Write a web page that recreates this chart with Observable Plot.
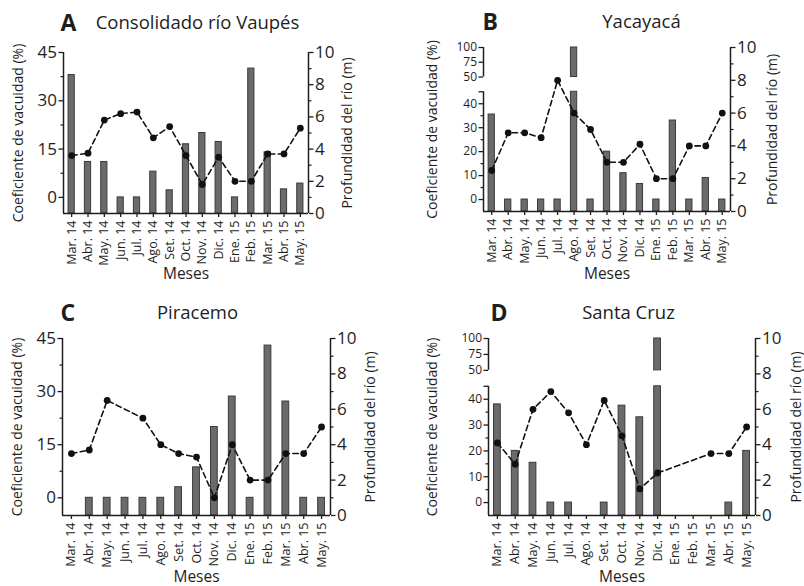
<!DOCTYPE html>
<html>
<head>
<meta charset="utf-8">
<script src="https://cdn.jsdelivr.net/npm/d3@7"></script>
<script src="https://cdn.jsdelivr.net/npm/@observablehq/plot@0.6"></script>
<style>
  body { margin: 0; background: #fff; }
  #wrap { position: relative; width: 804px; height: 586px; overflow: hidden; }
  .panel { position: absolute; }
</style>
</head>
<body>
<div id="wrap"></div>
<script>
// ---------- data ----------
const months = ["Mar. 14","Abr. 14","May. 14","Jun. 14","Jul. 14","Ago. 14","Set. 14","Oct. 14","Nov. 14","Dic. 14","Ene. 15","Feb. 15","Mar. 15","Abr. 15","May. 15"];

const letters = ["A", "B", "C", "D"];
const sites = ["Consolidado río Vaupés", "Yacayacá", "Piracemo", "Santa Cruz"];

// Coeficiente de vacuidad (%)
const vacA = [38, 11, 11, 0, 0, 8, 2.2, 16.5, 20, 17.2, 0, 40, 14, 2.5, 4.3];
const vacB = [35.5, 0, 0, 0, 0, 100, 0, 20, 11, 6.5, 0, 33, 0, 9, 0];
const vacC = [null, 0, 0, 0, 0, 0, 3, 8.6, 20, 28.6, 0, 43, 27.2, 0, 0];
const vacD = [38, 20, 15.4, 0, 0, null, 0, 37.5, 33, 100, null, null, null, 0, 20];

// Profundidad del río (m)
const depA = [3.6, 3.75, 5.8, 6.2, 6.3, 4.7, 5.4, 3.6, 1.8, 3.5, 2.0, 2.0, 3.7, 3.7, 5.3];
const depB = [2.5, 4.8, 4.8, 4.5, 8.0, 6.0, 5.0, 3.0, 3.0, 4.1, 2.0, 2.0, 4.0, 4.0, 6.0];
const depC = [3.5, 3.7, 6.5, null, 5.5, 4.0, 3.5, 3.3, 1.0, 4.0, 2.0, 2.0, 3.5, 3.5, 5.0];
const depD = [4.1, 2.9, 6.0, 7.0, 5.8, 4.0, 6.5, 4.5, 1.5, 2.4, null, null, 3.5, 3.5, 5.0];

const yLabelLeft = "Coeficiente de vacuidad (%)";
const yLabelRight = "Profundidad del río (m)";
const xLabel = "Meses";

const leftTicksSimple = [0, 15, 30, 45];
const leftMinorSimple = [7.5, 22.5, 37.5];
const leftTicksBroken = [0, 10, 20, 30, 40, 50, 75, 100];
const leftMinorBroken = [5, 15, 25, 35];
const rightTicks = [0, 2, 4, 6, 8, 10];
const rightMinor = [1, 3, 5, 7, 9];

// ---------- layout ----------
const FONT = "'Open Sans', 'Noto Sans', sans-serif";
const layout = [
  {ox: 0,   oy: 0,   w: 400, h: 290, mt: 52, mb: 77, ml: 63, mr: 92, broken: false, leftFont: 17, llx: -45, rlx: 39, mx: 61, lx: -3, sx: 11.5, ty: -29},
  {ox: 400, oy: 0,   w: 404, h: 290, mt: 47, mb: 79, ml: 83, mr: 74, broken: true,  leftFont: 12, llx: -51, rlx: 42, mx: 63, lx: -1, sx: 34.5, ty: -25},
  {ox: 0,   oy: 290, w: 400, h: 296, mt: 48, mb: 71, ml: 62, mr: 70, broken: false, leftFont: 17, llx: -45, rlx: 40, mx: 62, lx: -2, sx: 1,    ty: -25},
  {ox: 400, oy: 290, w: 404, h: 296, mt: 48, mb: 71, ml: 88, mr: 49, broken: true,  leftFont: 12, llx: -56, rlx: 41, mx: 62, lx: 2,  sx: 6.5,  ty: -25}
];

function makePanel(p, vac, dep, letter, site) {
  const v2d = p.broken
    ? d3.scaleLinear().domain([-5, 45, 50, 100]).range([0, 7.3, 8.2, 10])
    : d3.scaleLinear().domain([-5, 45]).range([0, 10]);
  const base = v2d.domain()[0];
  const rows = months.map((m, i) => ({i, v: vac[i], d: dep[i]}));
  const bars = [];
  for (const r of rows) {
    if (r.v == null) continue;
    if (p.broken && r.v > 45) {
      bars.push({i: r.i, a: base, b: 45});
      bars.push({i: r.i, a: 50, b: r.v});
    } else {
      bars.push({i: r.i, a: base, b: r.v});
    }
  }
  const pts = rows.filter(r => r.d != null);
  const leftMajor = p.broken ? leftTicksBroken : leftTicksSimple;
  const leftMinor = p.broken ? leftMinorBroken : leftMinorSimple;
  const caps = p.broken ? [45] : [];
  const segs = p.broken ? [[base, 45], [50, 100]] : [[base, 45]];
  const X0 = -0.5, X1 = months.length - 0.5;
  const fmtLeft = d => {
    const v = Math.round(v2d.invert(d) * 10) / 10;
    return caps.includes(v) ? "" : String(v);
  };
  const ink = "#1e1e1e";
  return Plot.plot({
    width: p.w, height: p.h,
    marginTop: p.mt, marginBottom: p.mb, marginLeft: p.ml, marginRight: p.mr,
    style: {fontFamily: FONT, color: ink, background: "white", overflow: "visible"},
    x: {domain: [X0, X1], label: null},
    y: {domain: [0, 10], label: null},
    marks: [
      Plot.rect(bars, {x1: d => d.i - 0.19, x2: d => d.i + 0.19, y1: d => v2d(d.a), y2: d => v2d(d.b), fill: "#6b6b6b", stroke: "#3a3a3a", strokeWidth: 1}),
      Plot.line(pts, {x: "i", y: "d", stroke: "#111", strokeWidth: 1.6, strokeDasharray: "5.5,3.5"}),
      Plot.dot(pts, {x: "i", y: "d", r: 3.4, fill: "#111", stroke: "none"}),
      Plot.ruleX(segs, {x: () => X0, y1: s => v2d(s[0]), y2: s => v2d(s[1]), stroke: ink, strokeWidth: 1.5}),
      Plot.ruleX([X1], {y1: 0, y2: 10, stroke: ink, strokeWidth: 1.5}),
      Plot.ruleY([0], {x1: X0, x2: X1, stroke: ink, strokeWidth: 1.5}),
      Plot.axisY(leftMajor.concat(caps).map(v2d), {anchor: "left", label: null, tickSize: 4.5, tickPadding: 2, tickFormat: fmtLeft, fontSize: p.leftFont, strokeWidth: 1.3}),
      Plot.axisY(leftMinor.map(v2d), {anchor: "left", label: null, tickSize: 2.5, tickFormat: () => "", strokeWidth: 1.2}),
      Plot.axisY(rightTicks, {anchor: "right", label: null, tickSize: 4.5, tickPadding: 2, fontSize: 17, strokeWidth: 1.3}),
      Plot.axisY(rightMinor, {anchor: "right", label: null, tickSize: 2.5, tickFormat: () => "", strokeWidth: 1.2}),
      Plot.axisX(d3.range(months.length), {anchor: "bottom", label: null, tickSize: 4, tickRotate: -90, tickPadding: 3, tickFormat: i => months[i], fontSize: 12.5, strokeWidth: 1.3}),
      Plot.text([yLabelLeft], {frameAnchor: "left", textAnchor: "middle", lineAnchor: "middle", dx: p.llx, rotate: -90, fontSize: 14, fill: ink}),
      Plot.text([yLabelRight], {frameAnchor: "right", textAnchor: "middle", lineAnchor: "middle", dx: p.rlx, rotate: -90, fontSize: 14, fill: ink}),
      Plot.text([xLabel], {frameAnchor: "bottom", lineAnchor: "middle", dy: p.mx, fontSize: 15.5, fill: ink}),
      Plot.text([letter], {frameAnchor: "top-left", textAnchor: "start", lineAnchor: "middle", dx: p.lx, dy: p.ty, fontSize: 23, fontWeight: "bold", fill: ink}),
      Plot.text([site], {frameAnchor: "top", lineAnchor: "middle", dx: p.sx, dy: p.ty, fontSize: 18.5, fill: ink})
    ]
  });
}

const vacs = [vacA, vacB, vacC, vacD];
const deps = [depA, depB, depC, depD];
const wrap = document.getElementById("wrap");
layout.forEach((p, k) => {
  const div = document.createElement("div");
  div.className = "panel";
  div.style.left = p.ox + "px";
  div.style.top = p.oy + "px";
  div.appendChild(makePanel(p, vacs[k], deps[k], letters[k], sites[k]));
  wrap.appendChild(div);
});
</script>
</body>
</html>
